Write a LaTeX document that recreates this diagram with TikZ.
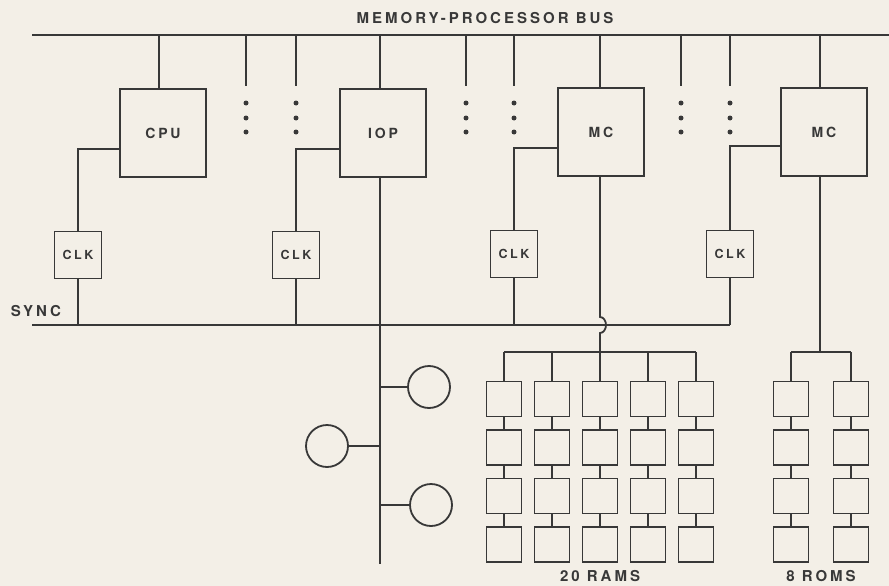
\documentclass[tikz,border=0pt]{standalone}
\usepackage{fontspec}
\setsansfont[LetterSpace=20]{TeX Gyre Heros}
\usetikzlibrary{positioning, calc}
\definecolor{cink}{HTML}{383838}
\definecolor{cpaper}{HTML}{F3EFE7}
\tikzset{
  every picture/.style={font=\sffamily\bfseries, line width=1.8pt, draw=cink, color=cink},
  unit/.style={draw, rectangle, minimum width=86pt, minimum height=88pt, inner sep=0pt, font=\sffamily\bfseries\fontsize{14}{14}\selectfont},
  clkbox/.style={draw, rectangle, minimum size=47pt, inner sep=0pt, font=\sffamily\bfseries\fontsize{12.5}{13}\selectfont},
  chip/.style={draw, rectangle, minimum size=35pt, inner sep=0pt},
  port/.style={draw, circle, minimum size=42pt, inner sep=0pt},
  dot/.style={circle, fill=cink, minimum size=5pt, inner sep=0pt},
  lbl/.style={font=\sffamily\bfseries\fontsize{15}{15}\selectfont, inner sep=0pt},
}

\begin{document}
\begin{tikzpicture}[x=1pt, y=-1pt]
  \fill[cpaper] (0,0) rectangle (889,586);
  \useasboundingbox (0,0) rectangle (889,586);
  \node[lbl] (bustitle) at (485,18) {MEMORY-PROCESSOR BUS};
  \coordinate (busL) at (32,35);
  \coordinate (busR) at (889,35);
  \draw (busL) -- (busR);
  \node[unit] (cpu) at (163,133) {CPU};
  \node[unit] (iop) at (383,133) {IOP};
  \node[unit] (mca) at (601,132) {MC};
  \node[unit] (mcb) at (824,132) {MC};
  \foreach \u/\x in {cpu/159, iop/380, mca/600, mcb/820} {
    \coordinate (tap-\u) at (\x,35);
    \draw (tap-\u) -- (tap-\u |- \u.north);
  }
  \foreach \x [count=\i] in {246,296,466,514,681,730} {
    \coordinate (drop\i) at (\x,35);
    \coordinate (stub\i) at (\x,86);
    \draw (drop\i) -- (stub\i);
    \foreach \y [count=\j] in {103,118,132}
      \node[dot] (dot\i-\j) at (\x,\y) {};
  }
  \node[clkbox] (clka) at (78,255) {CLK};
  \node[clkbox] (clkb) at (296,255) {CLK};
  \node[clkbox] (clkc) at (514,254) {CLK};
  \node[clkbox] (clkd) at (730,254) {CLK};
  \draw ([yshift=-16pt]cpu.west) -| (clka.north);
  \draw ([yshift=-16pt]iop.west) -| (clkb.north);
  \draw ([yshift=-16pt]mca.west) -| (clkc.north);
  \draw ([yshift=-14pt]mcb.west) -| (clkd.north);
  \coordinate (syncL) at (32,325);
  \coordinate (syncR) at (clkd |- syncL);
  \draw (syncL) -- (syncR);
  \foreach \c in {clka,clkb,clkc,clkd}
    \draw (\c.south) -- (\c |- syncL);
  \node[lbl, anchor=west] (sync) at (10,311) {SYNC};
  \coordinate (iopend) at (380,564);
  \draw (tap-iop |- iop.south) -- (iopend);
  \node[port] (pa) at (429,387) {};
  \node[port] (pb) at (327,446) {};
  \node[port] (pc) at (431,505) {};
  \draw (pa.west) -- (pa.west -| iopend);
  \draw (pb.east) -- (pb.east -| iopend);
  \draw (pc.west) -- (pc.west -| iopend);
  \coordinate (rambus) at (600,352);
  \coordinate (hop) at (tap-mca |- syncL);
  \draw (tap-mca |- mca.south) -- ([yshift=8pt]hop) arc[start angle=90, end angle=-90, x radius=6pt, y radius=8pt] -- (rambus);
  \foreach \c in {1,...,5} {
    \foreach \r/\y in {1/399,2/447.5,3/496,4/544.5}
      \node[chip] (ram\c-\r) at ({456+48*\c},\y) {};
    \draw (ram\c-1.north) -- (ram\c-1 |- rambus);
    \foreach \r/\s in {1/2,2/3,3/4}
      \draw (ram\c-\r) -- (ram\c-\s);
  }
  \draw (ram1-1 |- rambus) -- (ram5-1 |- rambus);
  \coordinate (rombus) at (820,352);
  \draw (tap-mcb |- mcb.south) -- (rombus);
  \foreach \c/\x in {1/791,2/851} {
    \foreach \r/\y in {1/399,2/447.5,3/496,4/544.5}
      \node[chip] (rom\c-\r) at (\x,\y) {};
    \draw (rom\c-1.north) -- (rom\c-1 |- rombus);
    \foreach \r/\s in {1/2,2/3,3/4}
      \draw (rom\c-\r) -- (rom\c-\s);
  }
  \draw (rom1-1 |- rombus) -- (rom2-1 |- rombus);
  \node[lbl] (ramlbl) at (600,576) {20 RAMS};
  \node[lbl] (romlbl) at (821,576) {8 ROMS};
\end{tikzpicture}
\end{document}
